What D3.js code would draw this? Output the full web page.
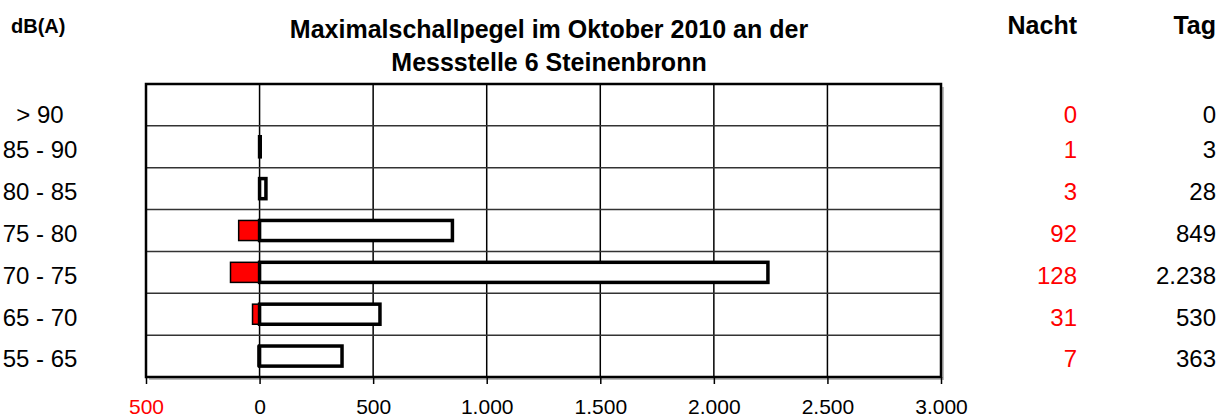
<!DOCTYPE html>
<html lang="de">
<head>
    <meta charset="UTF-8">
    <title>Maximalschallpegel Oktober 2010</title>
    <style>
        body {
            margin: 0;
            background: #fff;
        }
        svg text {
            font-family: "Liberation Sans", Arial, sans-serif;
        }
    </style>
</head>
<body>
    <script src="https://d3js.org/d3.v7.min.js"></script>
    <script type="text/javascript">
        // data
        var classes = ["> 90", "85 - 90", "80 - 85", "75 - 80", "70 - 75", "65 - 70", "55 - 65"];
        var nacht = [0, 1, 3, 92, 128, 31, 7];
        var tag = [0, 3, 28, 849, 2238, 530, 363];
        var tickValues = [-500, 0, 500, 1000, 1500, 2000, 2500, 3000];
        var tickLabels = ["500", "0", "500", "1.000", "1.500", "2.000", "2.500", "3.000"];

        var width = 1228, height = 420;
        var margin = {top: 84, left: 146, right: 287, bottom: 43};
        var plotW = width - margin.left - margin.right;
        var plotH = height - margin.top - margin.bottom;

        var de = d3.formatLocale({decimal: ",", thousands: ".", grouping: [3], currency: ["", " €"]});
        var fmt = de.format(",d");

        var svg = d3.select("body").append("svg")
            .attr("width", width)
            .attr("height", height);

        var x = d3.scaleLinear().domain([-500, 3000]).range([0, plotW]);
        var y = d3.scaleBand().domain(classes).range([0, plotH]).paddingInner(0.52).paddingOuter(0.26);
        var yb = d3.scaleBand().domain(classes).range([0, plotH]);

        // row text sits a bit below the band centre (the top row more so, like the original)
        function rowY(d, i) {
            return margin.top + yb(d) + yb.bandwidth() / 2 + (i === 0 ? 10 : 3);
        }

        var g = svg.append("g").attr("transform", "translate(" + margin.left + "," + margin.top + ")");

        // shadow of the plot frame
        g.append("rect")
            .attr("x", 3).attr("y", 3)
            .attr("width", plotW).attr("height", plotH)
            .attr("fill", "#bbb");
        g.append("rect")
            .attr("width", plotW).attr("height", plotH)
            .attr("fill", "#fff");

        // vertical gridlines
        g.selectAll("line.vg")
            .data(tickValues.filter(function(d) { return d > -500 && d < 3000; }))
            .enter().append("line")
            .attr("class", "vg")
            .attr("x1", function(d) { return x(d); })
            .attr("x2", function(d) { return x(d); })
            .attr("y1", 0).attr("y2", plotH)
            .attr("stroke", "#000").attr("stroke-width", 1.5);

        // horizontal gridlines between the classes
        g.selectAll("line.hg")
            .data(classes.slice(1))
            .enter().append("line")
            .attr("class", "hg")
            .attr("x1", 0).attr("x2", plotW)
            .attr("y1", function(d) { return yb(d); })
            .attr("y2", function(d) { return yb(d); })
            .attr("stroke", "#333").attr("stroke-width", 1.5);

        // night bars (to the left)
        g.selectAll("rect.nacht")
            .data(classes)
            .enter().append("rect")
            .attr("class", "nacht")
            .attr("x", function(d, i) { return x(-nacht[i]); })
            .attr("y", function(d) { return y(d); })
            .attr("width", function(d, i) { return x(0) - x(-nacht[i]); })
            .attr("height", y.bandwidth())
            .attr("fill", "#ff0000")
            .attr("stroke", function(d, i) { return nacht[i] > 0 ? "#000" : "none"; })
            .attr("stroke-width", 1.5);

        // day bars (to the right)
        g.selectAll("rect.tag")
            .data(classes)
            .enter().append("rect")
            .attr("class", "tag")
            .attr("x", x(0))
            .attr("y", function(d) { return y(d); })
            .attr("width", function(d, i) { return x(tag[i]) - x(0); })
            .attr("height", y.bandwidth())
            .attr("fill", "#fff")
            .attr("stroke", function(d, i) { return tag[i] > 0 ? "#000" : "none"; })
            .attr("stroke-width", 3.5);

        // frame
        g.append("rect")
            .attr("width", plotW).attr("height", plotH)
            .attr("fill", "none")
            .attr("stroke", "#000").attr("stroke-width", 2.5);

        // x axis
        var xAxis = d3.axisBottom(x)
            .tickValues(tickValues)
            .tickSize(7)
            .tickFormat(function(d, i) { return tickLabels[i]; });
        var ax = g.append("g")
            .attr("transform", "translate(0," + plotH + ")")
            .call(xAxis);
        ax.select(".domain").remove();
        ax.selectAll(".tick line").attr("stroke", "#000").attr("stroke-width", 1.5);
        ax.selectAll(".tick text")
            .attr("y", 22)
            .attr("font-size", 21)
            .attr("fill", function(d) { return d < 0 ? "#ff0000" : "#000"; });

        // class labels on the left
        svg.selectAll("text.cls")
            .data(classes)
            .enter().append("text")
            .attr("class", "cls")
            .attr("x", 40)
            .attr("y", rowY)
            .attr("dy", "0.35em")
            .attr("text-anchor", "middle")
            .attr("font-size", 24)
            .text(function(d) { return d; });

        // value columns on the right
        svg.selectAll("text.vn")
            .data(classes)
            .enter().append("text")
            .attr("class", "vn")
            .attr("x", 1077)
            .attr("y", rowY)
            .attr("dy", "0.35em")
            .attr("text-anchor", "end")
            .attr("font-size", 24)
            .attr("fill", "#ff0000")
            .text(function(d, i) { return fmt(nacht[i]); });

        svg.selectAll("text.vt")
            .data(classes)
            .enter().append("text")
            .attr("class", "vt")
            .attr("x", 1216)
            .attr("y", rowY)
            .attr("dy", "0.35em")
            .attr("text-anchor", "end")
            .attr("font-size", 24)
            .attr("fill", "#000")
            .text(function(d, i) { return fmt(tag[i]); });

        // headers and title
        svg.append("text")
            .attr("x", 11).attr("y", 33)
            .attr("font-size", 20).attr("font-weight", "bold")
            .text("dB(A)");
        svg.append("text")
            .attr("x", 1077).attr("y", 34)
            .attr("text-anchor", "end")
            .attr("font-size", 25).attr("font-weight", "bold")
            .text("Nacht");
        svg.append("text")
            .attr("x", 1216).attr("y", 34)
            .attr("text-anchor", "end")
            .attr("font-size", 25).attr("font-weight", "bold")
            .text("Tag");

        var title = svg.append("text")
            .attr("x", 549)
            .attr("text-anchor", "middle")
            .attr("font-size", 25).attr("font-weight", "bold");
        title.append("tspan").attr("x", 549).attr("y", 38).text("Maximalschallpegel im Oktober 2010 an der");
        title.append("tspan").attr("x", 549).attr("y", 71).text("Messstelle 6 Steinenbronn");
    </script>
</body>
</html>
